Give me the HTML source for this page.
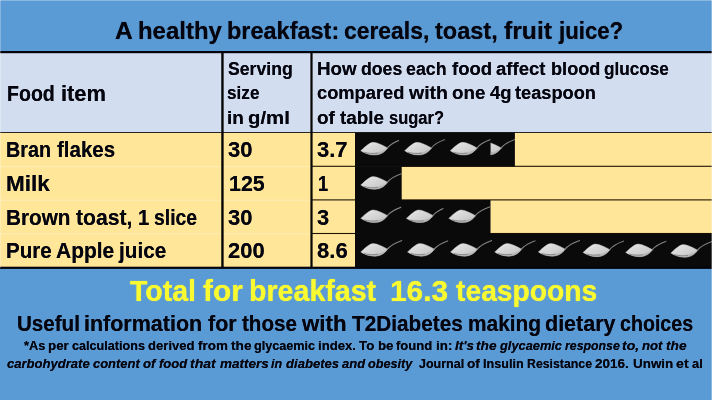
<!DOCTYPE html>
<html lang="en">
<head>
<meta charset="utf-8">
<title>A healthy breakfast: cereals, toast, fruit juice?</title>
<style>
html,body{margin:0;padding:0;}
body{width:712px;height:400px;overflow:hidden;background:#5b9bd5;position:relative;font-family:"Liberation Sans",sans-serif;}
.bg{position:absolute;left:0;top:0;display:block;}
.t{position:absolute;white-space:pre;font-weight:bold;margin:0;padding:0;}
.t b,.t i{position:absolute;top:0;transform-origin:0 0;font-weight:bold;}
.t b{font-style:normal;}
.t i{font-style:italic;}
</style>
</head>
<body>
<svg class="bg" width="712" height="400" viewBox="0 0 712 400">
<linearGradient id="sg" x1="0" y1="0.1" x2="0.9" y2="1"><stop offset="0" stop-color="#f8f8f8"/><stop offset="0.3" stop-color="#dcdcdc"/><stop offset="0.7" stop-color="#cecece"/><stop offset="1" stop-color="#b0b0b0"/></linearGradient>
<rect x="0" y="0" width="712" height="400" fill="#5b9bd5"/>
<rect x="0" y="52" width="712" height="81" fill="#d2deef"/>
<rect x="0" y="132.6" width="712" height="135" fill="#ffe699"/>
<rect x="0" y="166.1" width="355" height="1" fill="#fff3cf" opacity=".55"/>
<rect x="0" y="199.7" width="355" height="1" fill="#fff3cf" opacity=".55"/>
<rect x="0" y="233.3" width="355" height="1" fill="#fff3cf" opacity=".55"/>
<rect x="312" y="165.75" width="400" height="1.1" fill="#1e1400"/>
<rect x="312" y="199.35" width="400" height="1.1" fill="#1e1400"/>
<rect x="312" y="232.95" width="400" height="1.1" fill="#1e1400"/>
<rect x="0" y="132.0" width="712" height="1.0" fill="#262626"/>
<rect x="355.0" y="132.6" width="159.9" height="34.0" fill="#0a0a0b"/>
<svg x="354.9" y="132.6" width="44.1" height="32.7" viewBox="354.9 132.6 44.1 32.7"><path d="M360.7 150.7 C363.5 148.6 368.7 142.5 373.3 142.3 C377.4 142.4 382.9 145.4 387.8 148.0 C384.7 152.0 380.7 154.9 374.9 155.0 C369.4 155.1 364.3 153.2 360.7 150.7Z" fill="url(#sg)" stroke="#bdbdbd" stroke-width=".7" stroke-opacity=".6" stroke-linejoin="round"/><path d="M363.9 152.3 C368.9 153.7 377.9 153.8 386.1 149.8 C383.5 152.8 380.3 154.9 374.9 155.0 C370.1 155.1 366.5 154.0 363.9 152.3Z" fill="#b2b2b2" opacity=".8"/><path d="M364.1 152.2 C368.4 153.5 372.9 153.7 377.9 153.1" fill="none" stroke="#626262" stroke-width="0.7" opacity=".8"/><path d="M387.2 148.2 C390.4 144.0 394.4 141.8 402.1 139.2" fill="none" stroke="#858585" stroke-width="1.05" stroke-linecap="round"/></svg>
<svg x="398.8" y="132.6" width="46.1" height="32.7" viewBox="398.8 132.6 46.1 32.7"><path d="M404.6 150.7 C407.4 148.6 412.6 142.5 417.2 142.3 C421.3 142.4 426.8 145.4 431.7 148.0 C428.6 152.0 424.6 154.9 418.8 155.0 C413.3 155.1 408.2 153.2 404.6 150.7Z" fill="url(#sg)" stroke="#bdbdbd" stroke-width=".7" stroke-opacity=".6" stroke-linejoin="round"/><path d="M407.8 152.3 C412.8 153.7 421.8 153.8 430.0 149.8 C427.4 152.8 424.2 154.9 418.8 155.0 C414.0 155.1 410.4 154.0 407.8 152.3Z" fill="#b2b2b2" opacity=".8"/><path d="M408.0 152.2 C412.3 153.5 416.8 153.7 421.8 153.1" fill="none" stroke="#626262" stroke-width="0.7" opacity=".8"/><path d="M431.1 148.2 C434.3 144.0 438.3 141.8 446.0 139.2" fill="none" stroke="#858585" stroke-width="1.05" stroke-linecap="round"/></svg>
<svg x="444.4" y="132.6" width="46.0" height="32.7" viewBox="444.4 132.6 46.0 32.7"><path d="M450.2 150.7 C453.0 148.6 458.2 142.5 462.8 142.3 C466.9 142.4 472.4 145.4 477.3 148.0 C474.2 152.0 470.2 154.9 464.4 155.0 C458.9 155.1 453.8 153.2 450.2 150.7Z" fill="url(#sg)" stroke="#bdbdbd" stroke-width=".7" stroke-opacity=".6" stroke-linejoin="round"/><path d="M453.4 152.3 C458.4 153.7 467.4 153.8 475.6 149.8 C473.0 152.8 469.8 154.9 464.4 155.0 C459.6 155.1 456.0 154.0 453.4 152.3Z" fill="#b2b2b2" opacity=".8"/><path d="M453.6 152.2 C457.9 153.5 462.4 153.7 467.4 153.1" fill="none" stroke="#626262" stroke-width="0.7" opacity=".8"/><path d="M476.7 148.2 C479.9 144.0 483.9 141.8 491.6 139.2" fill="none" stroke="#858585" stroke-width="1.05" stroke-linecap="round"/></svg>
<rect x="355.0" y="166.4" width="46.7" height="33.8" fill="#0a0a0b"/>
<svg x="354.9" y="166.4" width="46.8" height="33.0" viewBox="354.9 166.4 46.8 33.0"><path d="M360.7 185.0 C363.5 182.9 368.7 176.8 373.3 176.6 C377.4 176.7 382.9 179.7 387.8 182.3 C384.7 186.3 380.7 189.2 374.9 189.3 C369.4 189.4 364.3 187.5 360.7 185.0Z" fill="url(#sg)" stroke="#bdbdbd" stroke-width=".7" stroke-opacity=".6" stroke-linejoin="round"/><path d="M363.9 186.6 C368.9 188.0 377.9 188.1 386.1 184.1 C383.5 187.1 380.3 189.2 374.9 189.3 C370.1 189.4 366.5 188.3 363.9 186.6Z" fill="#b2b2b2" opacity=".8"/><path d="M364.1 186.5 C368.4 187.8 372.9 188.0 377.9 187.4" fill="none" stroke="#626262" stroke-width="0.7" opacity=".8"/><path d="M387.2 182.5 C390.4 178.3 394.4 176.1 402.1 173.5" fill="none" stroke="#858585" stroke-width="1.05" stroke-linecap="round"/></svg>
<rect x="355.0" y="200.0" width="135.5" height="33.8" fill="#0a0a0b"/>
<svg x="354.9" y="200.0" width="46.3" height="33.0" viewBox="354.9 200.0 46.3 33.0"><path d="M360.7 218.3 C363.5 216.2 368.7 210.1 373.3 209.9 C377.4 210.0 382.9 213.0 387.8 215.6 C384.7 219.6 380.7 222.5 374.9 222.6 C369.4 222.7 364.3 220.8 360.7 218.3Z" fill="url(#sg)" stroke="#bdbdbd" stroke-width=".7" stroke-opacity=".6" stroke-linejoin="round"/><path d="M363.9 219.9 C368.9 221.3 377.9 221.4 386.1 217.4 C383.5 220.4 380.3 222.5 374.9 222.6 C370.1 222.7 366.5 221.6 363.9 219.9Z" fill="#b2b2b2" opacity=".8"/><path d="M364.1 219.8 C368.4 221.1 372.9 221.3 377.9 220.7" fill="none" stroke="#626262" stroke-width="0.7" opacity=".8"/><path d="M387.2 215.8 C390.4 211.6 394.4 209.4 402.1 206.8" fill="none" stroke="#858585" stroke-width="1.05" stroke-linecap="round"/></svg>
<svg x="400.5" y="200.0" width="42.9" height="33.0" viewBox="400.5 200.0 42.9 33.0"><path d="M406.3 218.3 C409.1 216.2 414.3 210.1 418.9 209.9 C423.0 210.0 428.5 213.0 433.4 215.6 C430.3 219.6 426.3 222.5 420.5 222.6 C415.0 222.7 409.9 220.8 406.3 218.3Z" fill="url(#sg)" stroke="#bdbdbd" stroke-width=".7" stroke-opacity=".6" stroke-linejoin="round"/><path d="M409.5 219.9 C414.5 221.3 423.5 221.4 431.7 217.4 C429.1 220.4 425.9 222.5 420.5 222.6 C415.7 222.7 412.1 221.6 409.5 219.9Z" fill="#b2b2b2" opacity=".8"/><path d="M409.7 219.8 C414.0 221.1 418.5 221.3 423.5 220.7" fill="none" stroke="#626262" stroke-width="0.7" opacity=".8"/><path d="M432.8 215.8 C436.0 211.6 440.0 209.4 447.7 206.8" fill="none" stroke="#858585" stroke-width="1.05" stroke-linecap="round"/></svg>
<svg x="442.9" y="200.0" width="47.6" height="33.0" viewBox="442.9 200.0 47.6 33.0"><path d="M448.7 218.3 C451.5 216.2 456.7 210.1 461.3 209.9 C465.4 210.0 470.9 213.0 475.8 215.6 C472.7 219.6 468.7 222.5 462.9 222.6 C457.4 222.7 452.3 220.8 448.7 218.3Z" fill="url(#sg)" stroke="#bdbdbd" stroke-width=".7" stroke-opacity=".6" stroke-linejoin="round"/><path d="M451.9 219.9 C456.9 221.3 465.9 221.4 474.1 217.4 C471.5 220.4 468.3 222.5 462.9 222.6 C458.1 222.7 454.5 221.6 451.9 219.9Z" fill="#b2b2b2" opacity=".8"/><path d="M452.1 219.8 C456.4 221.1 460.9 221.3 465.9 220.7" fill="none" stroke="#626262" stroke-width="0.7" opacity=".8"/><path d="M475.2 215.8 C478.4 211.6 482.4 209.4 490.1 206.8" fill="none" stroke="#858585" stroke-width="1.05" stroke-linecap="round"/></svg>
<rect x="355.0" y="233.6" width="357.0" height="33.4" fill="#0a0a0b"/>
<svg x="354.9" y="233.6" width="47.4" height="33.4" viewBox="354.9 233.6 47.4 33.4"><path d="M360.7 251.9 C363.5 249.8 368.7 243.7 373.3 243.5 C377.4 243.6 382.9 246.6 387.8 249.2 C384.7 253.2 380.7 256.1 374.9 256.2 C369.4 256.3 364.3 254.4 360.7 251.9Z" fill="url(#sg)" stroke="#bdbdbd" stroke-width=".7" stroke-opacity=".6" stroke-linejoin="round"/><path d="M363.9 253.5 C368.9 254.9 377.9 255.0 386.1 251.0 C383.5 254.0 380.3 256.1 374.9 256.2 C370.1 256.3 366.5 255.2 363.9 253.5Z" fill="#b2b2b2" opacity=".8"/><path d="M364.1 253.4 C368.4 254.7 372.9 254.9 377.9 254.3" fill="none" stroke="#626262" stroke-width="0.7" opacity=".8"/><path d="M387.2 249.4 C390.4 245.2 394.4 243.0 402.1 240.4" fill="none" stroke="#858585" stroke-width="1.05" stroke-linecap="round"/></svg>
<svg x="401.7" y="233.6" width="46.4" height="33.4" viewBox="401.7 233.6 46.4 33.4"><path d="M407.5 251.9 C410.3 249.8 415.5 243.7 420.1 243.5 C424.2 243.6 429.7 246.6 434.6 249.2 C431.5 253.2 427.5 256.1 421.7 256.2 C416.2 256.3 411.1 254.4 407.5 251.9Z" fill="url(#sg)" stroke="#bdbdbd" stroke-width=".7" stroke-opacity=".6" stroke-linejoin="round"/><path d="M410.7 253.5 C415.7 254.9 424.7 255.0 432.9 251.0 C430.3 254.0 427.1 256.1 421.7 256.2 C416.9 256.3 413.3 255.2 410.7 253.5Z" fill="#b2b2b2" opacity=".8"/><path d="M410.9 253.4 C415.2 254.7 419.7 254.9 424.7 254.3" fill="none" stroke="#626262" stroke-width="0.7" opacity=".8"/><path d="M434.0 249.4 C437.2 245.2 441.2 243.0 448.9 240.4" fill="none" stroke="#858585" stroke-width="1.05" stroke-linecap="round"/></svg>
<svg x="444.7" y="233.6" width="47.4" height="33.4" viewBox="444.7 233.6 47.4 33.4"><path d="M450.5 251.9 C453.3 249.8 458.5 243.7 463.1 243.5 C467.2 243.6 472.7 246.6 477.6 249.2 C474.5 253.2 470.5 256.1 464.7 256.2 C459.2 256.3 454.1 254.4 450.5 251.9Z" fill="url(#sg)" stroke="#bdbdbd" stroke-width=".7" stroke-opacity=".6" stroke-linejoin="round"/><path d="M453.7 253.5 C458.7 254.9 467.7 255.0 475.9 251.0 C473.3 254.0 470.1 256.1 464.7 256.2 C459.9 256.3 456.3 255.2 453.7 253.5Z" fill="#b2b2b2" opacity=".8"/><path d="M453.9 253.4 C458.2 254.7 462.7 254.9 467.7 254.3" fill="none" stroke="#626262" stroke-width="0.7" opacity=".8"/><path d="M477.0 249.4 C480.2 245.2 484.2 243.0 491.9 240.4" fill="none" stroke="#858585" stroke-width="1.05" stroke-linecap="round"/></svg>
<svg x="488.9" y="233.6" width="46.5" height="33.4" viewBox="488.9 233.6 46.5 33.4"><path d="M494.7 251.9 C497.5 249.8 502.7 243.7 507.3 243.5 C511.4 243.6 516.9 246.6 521.8 249.2 C518.7 253.2 514.7 256.1 508.9 256.2 C503.4 256.3 498.3 254.4 494.7 251.9Z" fill="url(#sg)" stroke="#bdbdbd" stroke-width=".7" stroke-opacity=".6" stroke-linejoin="round"/><path d="M497.9 253.5 C502.9 254.9 511.9 255.0 520.1 251.0 C517.5 254.0 514.3 256.1 508.9 256.2 C504.1 256.3 500.5 255.2 497.9 253.5Z" fill="#b2b2b2" opacity=".8"/><path d="M498.1 253.4 C502.4 254.7 506.9 254.9 511.9 254.3" fill="none" stroke="#626262" stroke-width="0.7" opacity=".8"/><path d="M521.2 249.4 C524.4 245.2 528.4 243.0 536.1 240.4" fill="none" stroke="#858585" stroke-width="1.05" stroke-linecap="round"/></svg>
<svg x="532.5" y="233.6" width="47.4" height="33.4" viewBox="532.5 233.6 47.4 33.4"><path d="M538.3 251.9 C541.1 249.8 546.3 243.7 550.9 243.5 C555.0 243.6 560.5 246.6 565.4 249.2 C562.3 253.2 558.3 256.1 552.5 256.2 C547.0 256.3 541.9 254.4 538.3 251.9Z" fill="url(#sg)" stroke="#bdbdbd" stroke-width=".7" stroke-opacity=".6" stroke-linejoin="round"/><path d="M541.5 253.5 C546.5 254.9 555.5 255.0 563.7 251.0 C561.1 254.0 557.9 256.1 552.5 256.2 C547.7 256.3 544.1 255.2 541.5 253.5Z" fill="#b2b2b2" opacity=".8"/><path d="M541.7 253.4 C546.0 254.7 550.5 254.9 555.5 254.3" fill="none" stroke="#626262" stroke-width="0.7" opacity=".8"/><path d="M564.8 249.4 C568.0 245.2 572.0 243.0 579.7 240.4" fill="none" stroke="#858585" stroke-width="1.05" stroke-linecap="round"/></svg>
<svg x="577.2" y="233.6" width="46.8" height="33.4" viewBox="577.2 233.6 46.8 33.4"><path d="M583.0 252.4 C585.8 250.3 591.0 244.2 595.6 244.0 C599.7 244.1 605.2 247.1 610.1 249.7 C607.0 253.7 603.0 256.6 597.2 256.7 C591.7 256.8 586.6 254.9 583.0 252.4Z" fill="url(#sg)" stroke="#bdbdbd" stroke-width=".7" stroke-opacity=".6" stroke-linejoin="round"/><path d="M586.2 254.0 C591.2 255.4 600.2 255.5 608.4 251.5 C605.8 254.5 602.6 256.6 597.2 256.7 C592.4 256.8 588.8 255.7 586.2 254.0Z" fill="#b2b2b2" opacity=".8"/><path d="M586.4 253.9 C590.7 255.2 595.2 255.4 600.2 254.8" fill="none" stroke="#626262" stroke-width="0.7" opacity=".8"/><path d="M609.5 249.9 C612.7 245.7 616.7 243.5 624.4 240.9" fill="none" stroke="#858585" stroke-width="1.05" stroke-linecap="round"/></svg>
<svg x="619.8" y="233.6" width="46.5" height="33.4" viewBox="619.8 233.6 46.5 33.4"><path d="M625.6 252.4 C628.4 250.3 633.6 244.2 638.2 244.0 C642.3 244.1 647.8 247.1 652.7 249.7 C649.6 253.7 645.6 256.6 639.8 256.7 C634.3 256.8 629.2 254.9 625.6 252.4Z" fill="url(#sg)" stroke="#bdbdbd" stroke-width=".7" stroke-opacity=".6" stroke-linejoin="round"/><path d="M628.8 254.0 C633.8 255.4 642.8 255.5 651.0 251.5 C648.4 254.5 645.2 256.6 639.8 256.7 C635.0 256.8 631.4 255.7 628.8 254.0Z" fill="#b2b2b2" opacity=".8"/><path d="M629.0 253.9 C633.3 255.2 637.8 255.4 642.8 254.8" fill="none" stroke="#626262" stroke-width="0.7" opacity=".8"/><path d="M652.1 249.9 C655.3 245.7 659.3 243.5 667.0 240.9" fill="none" stroke="#858585" stroke-width="1.05" stroke-linecap="round"/></svg>
<svg x="665.0" y="233.6" width="47.0" height="33.4" viewBox="665.0 233.6 47.0 33.4"><path d="M670.8 253.0 C673.6 250.9 678.8 244.8 683.4 244.6 C687.5 244.7 693.0 247.7 697.9 250.3 C694.8 254.3 690.8 257.2 685.0 257.3 C679.5 257.4 674.4 255.5 670.8 253.0Z" fill="url(#sg)" stroke="#bdbdbd" stroke-width=".7" stroke-opacity=".6" stroke-linejoin="round"/><path d="M674.0 254.6 C679.0 256.0 688.0 256.1 696.2 252.1 C693.6 255.1 690.4 257.2 685.0 257.3 C680.2 257.4 676.6 256.3 674.0 254.6Z" fill="#b2b2b2" opacity=".8"/><path d="M674.2 254.5 C678.5 255.8 683.0 256.0 688.0 255.4" fill="none" stroke="#626262" stroke-width="0.7" opacity=".8"/><path d="M697.3 250.5 C700.5 246.3 704.5 244.1 712.2 241.5" fill="none" stroke="#858585" stroke-width="1.05" stroke-linecap="round"/></svg>
<svg x="490.6" y="132.6" width="24.3" height="32.7" viewBox="490.6 132.6 24.3 32.7"><path d="M474.4 150.7 C477.2 148.6 482.4 142.5 487.0 142.3 C491.1 142.4 496.6 145.4 501.5 148.0 C498.4 152.0 494.4 154.9 488.6 155.0 C483.1 155.1 478.0 153.2 474.4 150.7Z" fill="url(#sg)" stroke="#bdbdbd" stroke-width=".7" stroke-opacity=".6" stroke-linejoin="round"/><path d="M477.6 152.3 C482.6 153.7 491.6 153.8 499.8 149.8 C497.2 152.8 494.0 154.9 488.6 155.0 C483.8 155.1 480.2 154.0 477.6 152.3Z" fill="#b2b2b2" opacity=".8"/><path d="M477.8 152.2 C482.1 153.5 486.6 153.7 491.6 153.1" fill="none" stroke="#626262" stroke-width="0.7" opacity=".8"/><path d="M500.9 148.2 C504.1 144.0 508.1 141.8 515.8 139.2" fill="none" stroke="#858585" stroke-width="1.05" stroke-linecap="round"/></svg>
<rect x="0" y="51.0" width="712" height="2.2" fill="#04040c"/>
<rect x="221.25" y="52" width="2.4" height="216" fill="#060606"/>
<rect x="310.4" y="52" width="2.2" height="216" fill="#060606"/>
<rect x="0" y="266.7" width="712" height="2.2" fill="#04040c"/>
<rect x="0" y="0" width="1" height="268" fill="#fff" opacity=".25"/>
<rect x="711" y="0" width="1" height="400" fill="#fff" opacity=".3"/>
<rect x="0" y="0" width="712" height="1" fill="#fff" opacity=".3"/>
</svg>
<div class="t" style="left:115.90px;top:17.21px;font-size:24.03px;line-height:28.84px;height:28.84px;color:#05050f;text-shadow:0 0 0.72px rgba(5,5,15,.8)"><b style="left:-0.86px;transform:scaleX(1.0221)">A </b><b style="left:21.93px;transform:scaleX(0.9969)">healthy </b><b style="left:111.39px;transform:scaleX(0.9775)">breakfast: </b><b style="left:227.94px;transform:scaleX(0.9528)">cereals, </b><b style="left:319.58px;transform:scaleX(0.9794)">toast, </b><b style="left:387.72px;transform:scaleX(1.0295)">fruit </b><b style="left:442.96px;transform:scaleX(0.9247)">juice?</b></div>
<div class="t" style="left:6.70px;top:81.80px;font-size:21.36px;line-height:25.63px;height:25.63px;color:#05050f;text-shadow:0 0 0.64px rgba(5,5,15,.8)"><b style="left:-0.13px;transform:scaleX(0.9164)">Food </b><b style="left:53.85px;transform:scaleX(1.0241)">item</b></div>
<div class="t" style="left:228.40px;top:57.60px;font-size:18.69px;line-height:22.43px;height:22.43px;color:#05050f;text-shadow:0 0 0.56px rgba(5,5,15,.8)"><b style="left:-0.87px;transform:scaleX(0.9443)">Serving</b></div>
<div class="t" style="left:228.40px;top:82.46px;font-size:18.69px;line-height:22.43px;height:22.43px;color:#05050f;text-shadow:0 0 0.56px rgba(5,5,15,.8)"><b style="left:-0.93px;transform:scaleX(0.9180)">size</b></div>
<div class="t" style="left:228.40px;top:107.30px;font-size:18.69px;line-height:22.43px;height:22.43px;color:#05050f;text-shadow:0 0 0.56px rgba(5,5,15,.8)"><b style="left:-1.27px;transform:scaleX(1.0135)">in </b><b style="left:19.83px;transform:scaleX(1.0905)">g/ml</b></div>
<div class="t" style="left:317.90px;top:57.60px;font-size:18.69px;line-height:22.43px;height:22.43px;color:#05050f;text-shadow:0 0 0.56px rgba(5,5,15,.8)"><b style="left:-1.19px;transform:scaleX(1.0068)">How </b><b style="left:42.91px;transform:scaleX(0.9467)">does </b><b style="left:88.50px;transform:scaleX(0.9502)">each </b><b style="left:133.73px;transform:scaleX(0.9899)">food </b><b style="left:178.38px;transform:scaleX(0.9936)">affect </b><b style="left:232.66px;transform:scaleX(0.9721)">blood </b><b style="left:286.42px;transform:scaleX(0.9186)">glucose</b></div>
<div class="t" style="left:317.90px;top:82.46px;font-size:18.69px;line-height:22.43px;height:22.43px;color:#05050f;text-shadow:0 0 0.56px rgba(5,5,15,.8)"><b style="left:-0.85px;transform:scaleX(0.9785)">compared </b><b style="left:91.25px;transform:scaleX(1.0442)">with </b><b style="left:134.56px;transform:scaleX(1.0022)">one </b><b style="left:172.20px;transform:scaleX(0.9880)">4g </b><b style="left:197.34px;transform:scaleX(0.9746)">teaspoon</b></div>
<div class="t" style="left:317.90px;top:107.30px;font-size:18.69px;line-height:22.43px;height:22.43px;color:#05050f;text-shadow:0 0 0.56px rgba(5,5,15,.8)"><b style="left:-0.89px;transform:scaleX(1.0151)">of </b><b style="left:21.66px;transform:scaleX(1.0095)">table </b><b style="left:71.20px;transform:scaleX(0.8836)">sugar?</b></div>
<div class="t" style="left:6.90px;top:138.10px;font-size:21.36px;line-height:25.63px;height:25.63px;color:#05050f;text-shadow:0 0 0.64px rgba(5,5,15,.8)"><b style="left:-1.25px;transform:scaleX(0.9252)">Bran </b><b style="left:50.02px;transform:scaleX(0.9595)">flakes</b></div>
<div class="t" style="left:229.10px;top:138.10px;font-size:21.36px;line-height:25.63px;height:25.63px;color:#05050f;text-shadow:0 0 0.64px rgba(5,5,15,.8)"><b style="left:-0.85px;transform:scaleX(1.0310)">30</b></div>
<div class="t" style="left:317.80px;top:138.10px;font-size:21.36px;line-height:25.63px;height:25.63px;color:#05050f;text-shadow:0 0 0.64px rgba(5,5,15,.8)"><b style="left:-0.86px;transform:scaleX(1.0300)">3.7</b></div>
<div class="t" style="left:7.60px;top:171.80px;font-size:21.36px;line-height:25.63px;height:25.63px;color:#05050f;text-shadow:0 0 0.64px rgba(5,5,15,.8)"><b style="left:-1.52px;transform:scaleX(1.0554)">Milk</b></div>
<div class="t" style="left:229.90px;top:171.80px;font-size:21.36px;line-height:25.63px;height:25.63px;color:#05050f;text-shadow:0 0 0.64px rgba(5,5,15,.8)"><b style="left:-1.28px;transform:scaleX(1.0022)">125</b></div>
<div class="t" style="left:319.00px;top:171.80px;font-size:21.36px;line-height:25.63px;height:25.63px;color:#05050f;text-shadow:0 0 0.64px rgba(5,5,15,.8)"><b style="left:-1.10px;transform:scaleX(0.8501)">1</b></div>
<div class="t" style="left:6.90px;top:205.60px;font-size:21.36px;line-height:25.63px;height:25.63px;color:#05050f;text-shadow:0 0 0.64px rgba(5,5,15,.8)"><b style="left:-1.33px;transform:scaleX(0.9714)">Brown </b><b style="left:68.73px;transform:scaleX(0.9909)">toast, </b><b style="left:130.78px;transform:scaleX(0.9449)">1 </b><b style="left:147.41px;transform:scaleX(0.9067)">slice</b></div>
<div class="t" style="left:229.10px;top:205.60px;font-size:21.36px;line-height:25.63px;height:25.63px;color:#05050f;text-shadow:0 0 0.64px rgba(5,5,15,.8)"><b style="left:-0.85px;transform:scaleX(1.0310)">30</b></div>
<div class="t" style="left:317.80px;top:205.60px;font-size:21.36px;line-height:25.63px;height:25.63px;color:#05050f;text-shadow:0 0 0.64px rgba(5,5,15,.8)"><b style="left:-0.85px;transform:scaleX(1.0247)">3</b></div>
<div class="t" style="left:6.90px;top:239.30px;font-size:21.36px;line-height:25.63px;height:25.63px;color:#05050f;text-shadow:0 0 0.64px rgba(5,5,15,.8)"><b style="left:-1.31px;transform:scaleX(0.9650)">Pure </b><b style="left:49.03px;transform:scaleX(0.9824)">Apple </b><b style="left:112.21px;transform:scaleX(0.9700)">juice</b></div>
<div class="t" style="left:229.00px;top:239.30px;font-size:21.36px;line-height:25.63px;height:25.63px;color:#05050f;text-shadow:0 0 0.64px rgba(5,5,15,.8)"><b style="left:-0.83px;transform:scaleX(1.0270)">200</b></div>
<div class="t" style="left:317.80px;top:239.30px;font-size:21.36px;line-height:25.63px;height:25.63px;color:#05050f;text-shadow:0 0 0.64px rgba(5,5,15,.8)"><b style="left:-0.83px;transform:scaleX(1.0322)">8.6</b></div>
<div class="t" style="left:129.60px;top:273.41px;font-size:30.25px;line-height:36.30px;height:36.30px;color:#fafa30;text-shadow:0 0 1px #fafa30"><b style="left:0.04px;transform:scaleX(0.9432)">Total </b><b style="left:73.26px;transform:scaleX(0.9874)">for </b><b style="left:119.25px;transform:scaleX(0.9452)">breakfast  </b><b style="left:260.67px;transform:scaleX(0.9845)">16.3 </b><b style="left:326.52px;transform:scaleX(0.9343)">teaspoons</b></div>
<div class="t" style="left:17.70px;top:311.71px;font-size:21.36px;line-height:25.63px;height:25.63px;color:#05050f;text-shadow:0 0 0.64px rgba(5,5,15,.8)"><b style="left:-1.17px;transform:scaleX(0.9630)">Useful </b><b style="left:66.50px;transform:scaleX(1.0058)">information </b><b style="left:189.93px;transform:scaleX(1.0064)">for </b><b style="left:224.05px;transform:scaleX(0.9661)">those </b><b style="left:284.48px;transform:scaleX(1.0439)">with </b><b style="left:334.25px;transform:scaleX(0.9717)">T2Diabetes </b><b style="left:450.16px;transform:scaleX(0.9780)">making </b><b style="left:527.27px;transform:scaleX(1.0065)">dietary </b><b style="left:602.65px;transform:scaleX(0.9189)">choices</b></div>
<div class="t" style="left:24.00px;top:338.11px;font-size:13.35px;line-height:16.02px;height:16.02px;color:#05050f;text-shadow:0 0 0.40px rgba(5,5,15,.8)"><b style="left:-0.31px;transform:scaleX(0.9555)">*As </b><b style="left:24.05px;transform:scaleX(0.9976)">per </b><b style="left:47.86px;transform:scaleX(0.9454)">calculations </b><b style="left:123.70px;transform:scaleX(0.9817)">derived </b><b style="left:173.68px;transform:scaleX(1.0085)">from </b><b style="left:206.90px;transform:scaleX(1.0281)">the </b><b style="left:230.40px;transform:scaleX(0.9469)">glycaemic </b><b style="left:293.93px;transform:scaleX(0.9839)">index. </b><b style="left:335.18px;transform:scaleX(0.9972)">To </b><b style="left:353.66px;transform:scaleX(0.9957)">be </b><b style="left:372.36px;transform:scaleX(0.9809)">found </b><b style="left:411.73px;transform:scaleX(1.0036)">in: </b><i style="left:431.35px;transform:scaleX(1.0048)">It&#39;s </i><i style="left:452.37px;transform:scaleX(1.0276)">the </i><i style="left:475.74px;transform:scaleX(0.9599)">glycaemic </i><i style="left:540.50px;transform:scaleX(0.9224)">response </i><i style="left:598.09px;transform:scaleX(1.0496)">to, </i><i style="left:618.47px;transform:scaleX(0.9879)">not </i><i style="left:642.12px;transform:scaleX(1.0283)">the</i></div>
<div class="t" style="left:7.60px;top:355.80px;font-size:13.35px;line-height:16.02px;height:16.02px;color:#05050f;text-shadow:0 0 0.40px rgba(5,5,15,.8)"><i style="left:-0.43px;transform:scaleX(0.9783)">carbohydrate </i><i style="left:85.33px;transform:scaleX(0.9708)">content </i><i style="left:135.50px;transform:scaleX(0.9895)">of </i><i style="left:151.16px;transform:scaleX(0.9759)">food </i><i style="left:182.47px;transform:scaleX(1.0537)">that </i><i style="left:211.98px;transform:scaleX(1.0114)">matters </i><i style="left:263.53px;transform:scaleX(0.9390)">in </i><i style="left:277.97px;transform:scaleX(0.9805)">diabetes </i><i style="left:333.92px;transform:scaleX(0.9736)">and </i><i style="left:360.31px;transform:scaleX(0.9498)">obesity</i><b style="left:403.97px;transform:scaleX(0.9392)">  Journal </b><b style="left:459.29px;transform:scaleX(1.0197)">of </b><b style="left:475.50px;transform:scaleX(0.9436)">Insulin </b><b style="left:519.48px;transform:scaleX(0.9221)">Resistance </b><b style="left:587.90px;transform:scaleX(1.0124)">2016. </b><b style="left:624.96px;transform:scaleX(1.0068)">Unwin </b><b style="left:668.22px;transform:scaleX(1.0628)">et </b><b style="left:684.34px;transform:scaleX(0.9690)">al</b></div>
</body>
</html>
